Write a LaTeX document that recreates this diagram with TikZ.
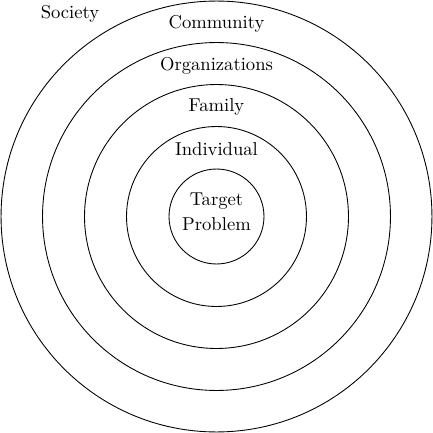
\documentclass[tikz,border=0pt]{standalone}
\usepackage{tikz}
\usetikzlibrary{positioning}
\tikzset{
    ring/.style={
        draw=black,
        circle,
        line width=0.5pt,
        inner sep=0pt,
        minimum size=#1
    },
    ringtext/.style={
        font=\rmfamily\fontsize{10.6}{13.5}\selectfont,
        align=center,
        inner sep=0pt
    }
}

\begin{document}
\begin{tikzpicture}[x=0.02cm, y=0.02cm]
        \useasboundingbox (-216.5,-216.5) rectangle (216.5,216.5);

        % Rings, outside in
        \node[ring=8.62cm] (societyring) at (0,0) {};
        \node[ring=6.96cm] (communityring) at (0,0) {};
        \node[ring=5.28cm] (orgring) at (0,0) {};
        \node[ring=3.60cm] (familyring) at (0,0) {};
        \node[ring=1.90cm] (individualring) at (0,0) {};

        % Labels
        \node[ringtext] (society) at (-146.5,203) {Society};
        \node[ringtext] (community) at (0,192.5) {Community};
        \node[ringtext] (organizations) at (0,150.5) {Organizations};
        \node[ringtext] (family) at (0,109.5) {Family};
        \node[ringtext] (individual) at (0,67.5) {Individual};
        \node[ringtext] (target) at (0,4.5) {Target\\[1pt]Problem};
    \end{tikzpicture}
\end{document}
